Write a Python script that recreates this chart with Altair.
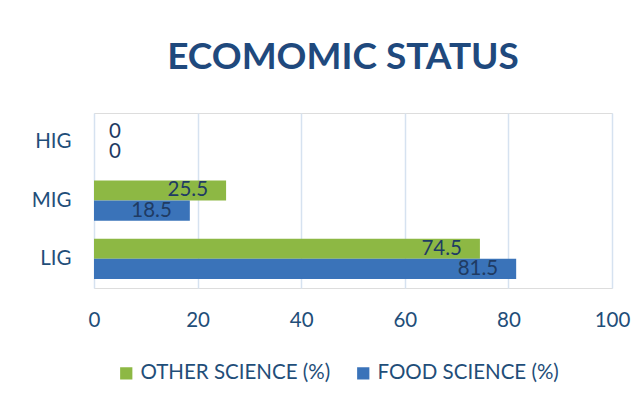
import altair as alt
import pandas as pd

categories = ["HIG", "MIG", "LIG"]
other_science = [0, 25.5, 74.5]
food_science = [0, 18.5, 81.5]
series_names = ["OTHER SCIENCE (%)", "FOOD SCIENCE (%)"]
series_colors = ["#8DB844", "#3A73B9"]
x_ticks = [0, 20, 40, 60, 80, 100]

rows = []
for c, o, f in zip(categories, other_science, food_science):
    rows.append({"cat": c, "series": series_names[0], "value": o})
    rows.append({"cat": c, "series": series_names[1], "value": f})
df = pd.DataFrame(rows)

FONT = "Lato"
TXT = "#1F4E79"
FS = 20.5

y_enc = alt.Y("cat:N", sort=categories, title=None,
              scale=alt.Scale(paddingInner=0.31, paddingOuter=0.155),
              axis=alt.Axis(domain=False, ticks=False, labelFontSize=FS, labelColor=TXT,
                            labelFont=FONT, labelPadding=23, grid=False))
yoff = alt.YOffset("series:N", scale=alt.Scale(domain=series_names))
x_enc = alt.X("value:Q", title=None,
              scale=alt.Scale(domain=[0, 100], nice=False),
              axis=alt.Axis(values=x_ticks, domain=False, ticks=False, labelFontSize=FS,
                            labelColor=TXT, labelFont=FONT, labelPadding=22, labelFlush=False,
                            grid=True, gridColor="#D6E2F0", gridWidth=1.5))

base = alt.Chart(df)

bars = base.mark_bar().encode(
    x=x_enc, y=y_enc, yOffset=yoff,
    color=alt.Color("series:N", scale=alt.Scale(domain=series_names, range=series_colors),
                    legend=alt.Legend(title=None, orient="none", direction="horizontal",
                                      legendX=22, legendY=250, symbolType="square",
                                      symbolSize=150, symbolStrokeWidth=0,
                                      labelFontSize=FS, labelFont=FONT, labelColor=TXT,
                                      columnPadding=22, labelLimit=400)),
)

labels_pos = base.transform_filter("datum.value > 0").mark_text(
    align="right", baseline="middle", dx=-18, fontSize=FS, font=FONT, color="#1F3B63"
).encode(x="value:Q", y=alt.Y("cat:N", sort=categories), yOffset=yoff, text="value:Q")

labels_zero = base.transform_filter("datum.value == 0").mark_text(
    align="left", baseline="middle", dx=15, fontSize=FS, font=FONT, color="#1F3B63"
).encode(x="value:Q", y=alt.Y("cat:N", sort=categories), yOffset=yoff, text="value:Q")

chart = alt.layer(bars, labels_pos, labels_zero).properties(
    width=518, height=175,
    autosize=alt.AutoSizeParams(type="none"),
    padding={"left": 86, "top": 105, "right": 24, "bottom": 107},
    title=alt.TitleParams("ECOMOMIC STATUS", fontSize=37, font=FONT, fontWeight="bold",
                          color="#1F497D", anchor="middle", dx=-10, offset=36),
).configure_view(stroke=None).configure(background="white")

chart.save("out.html", embed_options={"renderer": "svg", "actions": False})
